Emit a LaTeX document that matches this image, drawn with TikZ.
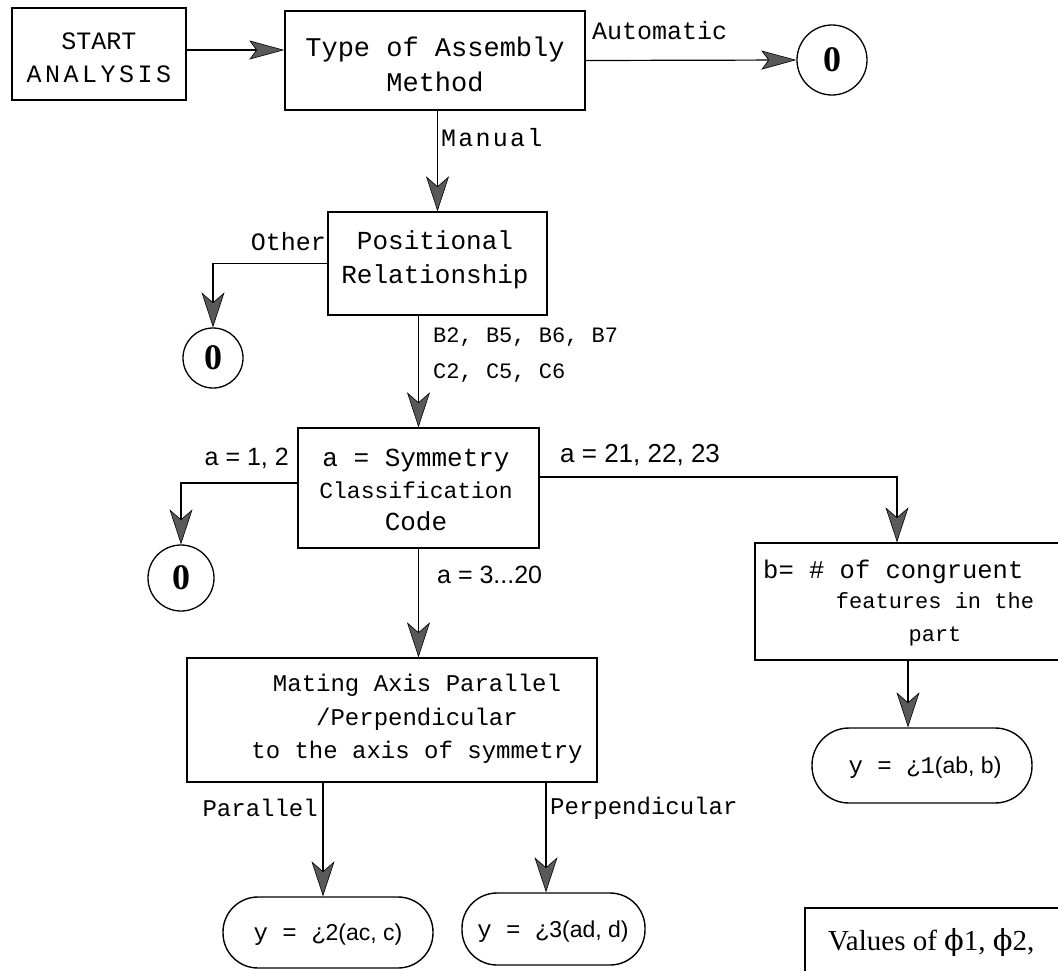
\documentclass[tikz,border=0pt]{standalone}
\usepackage{fontspec}
\setmainfont{Liberation Serif}
\setmonofont{Liberation Mono}
\setsansfont{Liberation Sans}
\newfontfamily\dvserif{DejaVu Serif}
\usetikzlibrary{arrows.meta}
\newcommand\mf[2]{\ttfamily\fontsize{#1}{#2}\selectfont}
\newcommand\sfz[2]{\sffamily\fontsize{#1}{#2}\selectfont}
\tikzset{
  box/.style={draw, line width=1.4pt, inner sep=0pt},
  txt/.style={inner sep=0pt, align=center},
  arr/.style={line width=1.2pt, -{Stealth[length=35pt,width=23pt,inset=10pt,fill=black!65,line width=0.6pt]}},
  harr/.style={line width=1.2pt, -{Stealth[length=35pt,width=19pt,inset=7pt,fill=black!65,line width=0.6pt]}},
  endc/.style={draw, circle, line width=1.3pt, inner sep=0pt, font=\rmfamily\bfseries\fontsize{36}{36}\selectfont},
  oval/.style={draw, line width=1.4pt, inner sep=0pt},
}
\begin{document}
\begin{tikzpicture}[x=1pt,y=-1pt]
\useasboundingbox (0,0) rectangle (1058,970);
\clip (0,0) rectangle (1058,970);
\fill[white] (0,0) rectangle (1058,970);

% boxes
\node[box, minimum width=174pt, minimum height=92pt] (start) at (99,54) {};
\node[txt, font=\mf{25}{33}] (starttx) at (99,58) {START\\\addfontfeature{LetterSpace=14}ANALYSIS};

\node[box, minimum width=300pt, minimum height=99pt] (type) at (435,60.5) {};
\node[txt, font=\mf{27}{35}] (typetx) at (435,64) {Type of Assembly\\Method};

\node[endc, minimum size=70pt] (o1) at (832,60) {0};

\node[box, minimum width=219pt, minimum height=103pt] (pos) at (437.5,263.5) {};
\node[txt, font=\mf{26}{34}] (postx) at (435,260) {Positional\\Relationship};

\node[endc, minimum size=60pt] (o2) at (213,358) {0};

\node[box, minimum width=241pt, minimum height=120pt] (sym) at (418.5,488) {};
\node[txt, font=\mf{26}{32}] (symtx) at (416,490) {a = Symmetry\\{\fontsize{23}{32}\selectfont Classification}\\Code};

\node[endc, minimum size=66pt] (o3) at (181,578) {0};

\node[box, minimum width=315pt, minimum height=117pt] (bbox) at (912.5,601.5) {};
\node[txt, anchor=west, font=\mf{25.5}{33}] (btx1) at (763,572) {b= \# of congruent};
\node[txt, font=\mf{22}{33}] (btx2) at (935,619) {features in the\\part};

\node[box, minimum width=410pt, minimum height=124pt] (mat) at (392,720) {};
\node[txt, font=\mf{24}{33.5}] (mattx) at (417,719) {Mating Axis Parallel\\/Perpendicular\\to the axis of symmetry};

\node[oval, rounded corners=35pt, minimum width=210pt, minimum height=71pt] (ov1) at (328,932.5) {};
\node[txt] (ov1tx) at (328,935) {\mf{24}{24}y = ¿\sfz{23}{24}2(ac, c)};
\node[oval, rounded corners=35pt, minimum width=183pt, minimum height=72pt] (ov2) at (553.5,929) {};
\node[txt] (ov2tx) at (553,932) {\mf{24}{24}y = ¿\sfz{23}{24}3(ad, d)};
\node[oval, rounded corners=37pt, minimum width=220pt, minimum height=75pt] (ov3) at (922,765.5) {};
\node[txt] (ov3tx) at (925,768) {\mf{24}{24}y = ¿1\sfz{23}{24}(ab, b)};

\node[box, minimum width=295pt, minimum height=102pt] (vals) at (952.5,959) {};
\node[txt, anchor=west, font=\rmfamily\fontsize{29}{34}\selectfont] (valstx) at (828,942) {Values of {\dvserif ϕ}1, {\dvserif ϕ}2,};

% connectors
\draw[harr] ([yshift=4pt]start.east) -- ([yshift=4pt]start.east -| type.west);
\draw[harr] (type.east) -- (o1.west);
\node[txt, anchor=west, font=\mf{25}{30}] (lauto) at (592,31) {Automatic};

\draw[arr] (pos.north |- type.south) -- (pos.north);
\node[txt, anchor=west, font=\mf{25}{30}] (lman) at (441,138) {\addfontfeature{LetterSpace=9}Manual};

\draw[arr] (pos.west) -| (o2.north);
\node[txt, anchor=east, font=\mf{25}{30}] (lother) at (326,242) {Other};

\draw[arr] (sym.north |- pos.south) -- (sym.north);
\node[txt, anchor=west, align=left, font=\mf{22}{36}] (lb) at (433,355) {B2, B5, B6, B7\\C2, C5, C6};

\draw[arr] ([yshift=5pt]sym.west) -| (o3.north);
\node[txt, anchor=east, font=\sfz{25}{30}] (la12) at (289,458) {a = 1, 2};

\draw[arr] ([yshift=11pt]sym.east) -| ([xshift=-15.5pt]bbox.north);
\node[txt, anchor=west, font=\sfz{26}{30}] (la21) at (560,455) {a = 21, 22, 23};

\draw[arr] (sym.south) -- (sym.south |- mat.north);
\node[txt, anchor=west, font=\sfz{25}{30}] (la3) at (437,575) {a = 3...20};

\draw[arr] ([xshift=-5pt]ov1.north |- mat.south) -- ([xshift=-5pt]ov1.north);
\node[txt, anchor=east, font=\mf{24}{30}] (lpar) at (318,808) {Parallel};

\draw[arr] ([xshift=-7.5pt]ov2.north |- mat.south) -- ([xshift=-7.5pt]ov2.north);
\node[txt, anchor=west, font=\mf{24}{30}] (lperp) at (550,808) {Perpendicular};

\draw[arr] ([xshift=-4.5pt]bbox.south) -- ([xshift=-4.5pt]bbox.south |- ov3.north);
\end{tikzpicture}
\end{document}
